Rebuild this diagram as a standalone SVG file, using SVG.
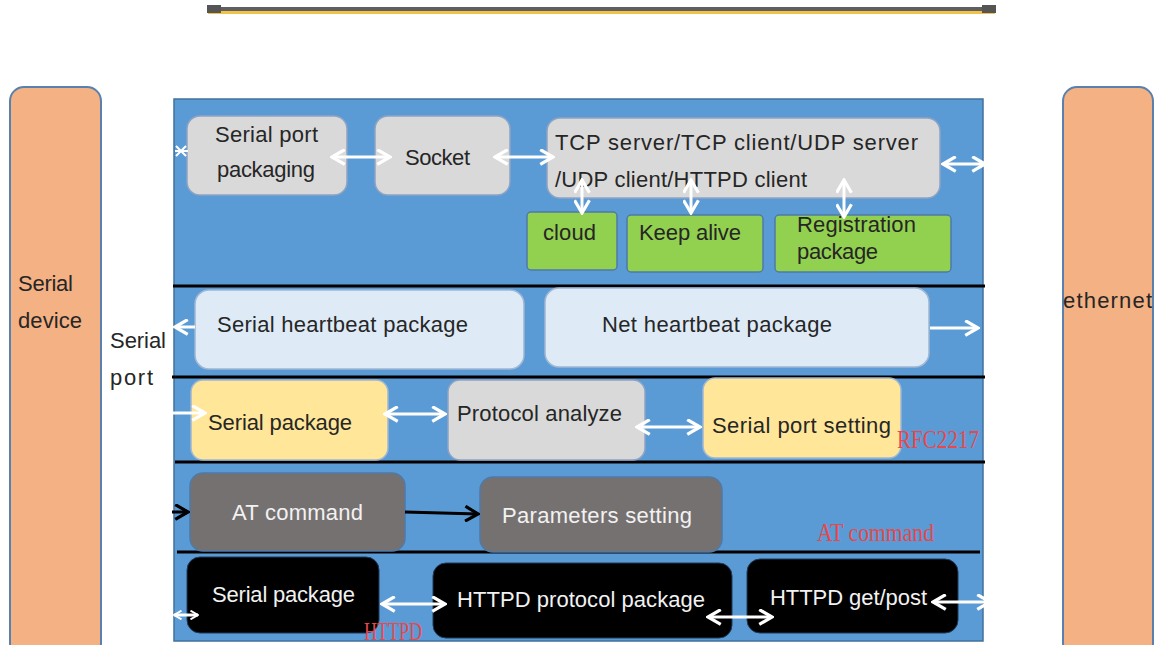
<svg xmlns="http://www.w3.org/2000/svg" width="1156" height="645" viewBox="0 0 1156 645">
<style>
.t{font-family:"Liberation Sans",Arial,sans-serif;font-size:22px;fill:#262626}
.tw{font-family:"Liberation Sans",Arial,sans-serif;font-size:22px;fill:#f2f2f2}
.red{font-family:"Liberation Serif","Times New Roman",serif;font-size:25px;fill:#e8474c}
.gray{fill:#d9d9d9;stroke:#8ea4c4;stroke-width:1.5}
.lb{fill:#deebf7;stroke:#9fb7d3;stroke-width:1.5}
.yel{fill:#ffe699;stroke:#9fb7d3;stroke-width:1.5}
.grn{fill:#92d050;stroke:#4f7aa8;stroke-width:1.5}
.dk{fill:#767171;stroke:#4f7aa8;stroke-width:1.5}
.blk{fill:#000;stroke:#1f3a5a;stroke-width:1}
.peach{fill:#f4b183;stroke:#5a80ad;stroke-width:2}
.wa{stroke:#fff;stroke-width:3;fill:none}
.ba{stroke:#000;stroke-width:3;fill:none}
.sep{stroke:#000;stroke-width:3}
</style>
<defs>
<marker id="wh" viewBox="0 0 16 16" refX="14" refY="8" markerWidth="17" markerHeight="17" markerUnits="userSpaceOnUse" orient="auto-start-reverse">
<path d="M2,1 L14,8 L2,15" fill="none" stroke="#fff" stroke-width="3"/>
</marker>
<marker id="whs" viewBox="0 0 16 16" refX="14" refY="8" markerWidth="10" markerHeight="10" markerUnits="userSpaceOnUse" orient="auto-start-reverse">
<path d="M2,1 L14,8 L2,15" fill="none" stroke="#fff" stroke-width="3"/>
</marker>
<marker id="bh" viewBox="0 0 16 16" refX="14" refY="8" markerWidth="17" markerHeight="17" markerUnits="userSpaceOnUse" orient="auto">
<path d="M2,1 L14,8 L2,15" fill="none" stroke="#000" stroke-width="3"/>
</marker>
</defs>
<rect width="1156" height="645" fill="#fff"/>

<g id="topbar">
<rect x="208" y="7" width="787" height="4" fill="#5f5f5f"/>
<rect x="208" y="11" width="787" height="3" fill="#f0c24a"/>
<rect x="207" y="5" width="14" height="8" fill="#555"/>
<rect x="982" y="5" width="14" height="8" fill="#555"/>
</g>

<g id="serial-device">
<rect class="peach" x="10" y="87" width="91" height="570" rx="14"/>
<text class="t" x="18" y="291" textLength="55">Serial</text>
<text class="t" x="18" y="328" textLength="64">device</text>
</g>
<g id="ethernet">
<rect class="peach" x="1063" y="87" width="90" height="570" rx="14"/>
<text class="t" x="1063" y="308" textLength="89">ethernet</text>
</g>
<g id="serial-port-label">
<text class="t" x="110" y="348" textLength="56">Serial</text>
<text class="t" x="110" y="385" textLength="43">port</text>
</g>

<g id="panel">
<rect x="174" y="99" width="809" height="542" fill="#5b9bd5" stroke="#41719c" stroke-width="1.5"/>
</g>

<g id="separators">
<line class="sep" x1="173" y1="286" x2="985" y2="286"/>
<line class="sep" x1="172" y1="377" x2="985" y2="377"/>
<line class="sep" x1="175" y1="462" x2="985" y2="462"/>
<line class="sep" x1="177" y1="552" x2="980" y2="552"/>
</g>

<g id="serial-port-packaging">
<rect class="gray" x="187" y="116" width="160" height="79" rx="13"/>
<text class="t" x="215" y="142" textLength="103">Serial port</text>
<text class="t" x="217" y="177" textLength="98">packaging</text>
</g>
<g id="socket">
<rect class="gray" x="375" y="116" width="135" height="79" rx="13"/>
<text class="t" x="405" y="165" textLength="65">Socket</text>
</g>
<g id="tcp">
<rect class="gray" x="547" y="118" width="393" height="80" rx="13"/>
<text class="t" x="555" y="150" textLength="363">TCP  server/TCP  client/UDP  server</text>
<text class="t" x="555" y="187" textLength="252">/UDP client/HTTPD client</text>
</g>
<g id="cloud">
<rect class="grn" x="527" y="212" width="90" height="58" rx="4"/>
<text class="t" x="543" y="240" textLength="53">cloud</text>
</g>
<g id="keep-alive">
<rect class="grn" x="627" y="215" width="136" height="57" rx="4"/>
<text class="t" x="639" y="240" textLength="102">Keep alive</text>
</g>
<g id="registration">
<rect class="grn" x="775" y="215" width="176" height="57" rx="4"/>
<text class="t" x="797" y="232" textLength="119">Registration</text>
<text class="t" x="797" y="259" textLength="81">package</text>
</g>

<g id="serial-heartbeat">
<rect class="lb" x="195" y="290" width="329" height="79" rx="14"/>
<text class="t" x="217" y="332" textLength="251">Serial heartbeat package</text>
</g>
<g id="net-heartbeat">
<rect class="lb" x="545" y="288" width="384" height="79" rx="14"/>
<text class="t" x="602" y="332" textLength="230">Net heartbeat package</text>
</g>

<g id="serial-package">
<rect class="yel" x="191" y="380" width="197" height="80" rx="12"/>
<text class="t" x="208" y="430" textLength="144">Serial package</text>
</g>
<g id="protocol-analyze">
<rect class="gray" x="448" y="380" width="197" height="80" rx="12"/>
<text class="t" x="457" y="421" textLength="165">Protocol analyze</text>
</g>
<g id="serial-port-setting">
<rect class="yel" x="703" y="378" width="198" height="80" rx="12"/>
<text class="t" x="712" y="433" textLength="179">Serial port setting</text>
</g>
<g id="rfc2217">
<text class="red" x="897" y="448" textLength="82" lengthAdjust="spacingAndGlyphs">RFC2217</text>
</g>

<g id="at-command">
<rect class="dk" x="190" y="473" width="215" height="78" rx="13"/>
<text class="tw" x="232" y="520" textLength="131">AT command</text>
</g>
<g id="parameters-setting">
<rect class="dk" x="480" y="477" width="242" height="75" rx="13"/>
<text class="tw" x="502" y="523" textLength="190">Parameters setting</text>
</g>
<g id="at-command-label">
<text class="red" x="817" y="541" textLength="117" lengthAdjust="spacingAndGlyphs">AT command</text>
</g>

<g id="serial-package-http">
<rect class="blk" x="187" y="557" width="192" height="76" rx="13"/>
<text class="tw" x="212" y="602" textLength="143">Serial package</text>
</g>
<g id="httpd-protocol">
<rect class="blk" x="433" y="563" width="299" height="75" rx="13"/>
<text class="tw" x="457" y="607" textLength="248">HTTPD protocol package</text>
</g>
<g id="httpd-getpost">
<rect class="blk" x="747" y="559" width="211" height="74" rx="13"/>
<text class="tw" x="770" y="605" textLength="157">HTTPD get/post</text>
</g>
<g id="httpd-label">
<text class="red" x="364" y="640" textLength="58" lengthAdjust="spacingAndGlyphs">HTTPD</text>
</g>

<g id="connectors">
<path d="M176,146 L186,156 M176,156 L186,146 M175,151 L188,151" stroke="#fff" stroke-width="2" fill="none"/>
<line class="wa" x1="332" y1="157" x2="390" y2="157" marker-start="url(#wh)" marker-end="url(#wh)"/>
<line class="wa" x1="495" y1="157" x2="553" y2="157" marker-start="url(#wh)" marker-end="url(#wh)"/>
<line class="wa" x1="943" y1="164" x2="985" y2="164" marker-start="url(#wh)" marker-end="url(#wh)"/>
<line class="wa" x1="582" y1="180" x2="582" y2="213" marker-start="url(#wh)" marker-end="url(#wh)"/>
<line class="wa" x1="691" y1="180" x2="691" y2="213" marker-start="url(#wh)" marker-end="url(#wh)"/>
<line class="wa" x1="844" y1="180" x2="844" y2="217" marker-start="url(#wh)" marker-end="url(#wh)"/>
<line class="wa" x1="195" y1="327" x2="175" y2="327" marker-end="url(#wh)"/>
<line class="wa" x1="930" y1="328" x2="978" y2="328" marker-end="url(#wh)"/>
<line class="wa" x1="173" y1="413" x2="205" y2="413" marker-end="url(#wh)"/>
<line class="wa" x1="385" y1="414" x2="445" y2="414" marker-start="url(#wh)" marker-end="url(#wh)"/>
<line class="wa" x1="637" y1="427" x2="700" y2="427" marker-start="url(#wh)" marker-end="url(#wh)"/>
<line class="ba" x1="172" y1="512" x2="188" y2="512" marker-end="url(#bh)"/>
<line class="ba" x1="405" y1="512" x2="478" y2="514" marker-end="url(#bh)"/>
<line class="wa" x1="174" y1="615" x2="198" y2="615" marker-start="url(#whs)" marker-end="url(#whs)"/>
<line class="wa" x1="382" y1="604" x2="445" y2="604" marker-start="url(#wh)" marker-end="url(#wh)"/>
<line class="wa" x1="708" y1="617" x2="772" y2="617" marker-start="url(#wh)" marker-end="url(#wh)"/>
<line class="wa" x1="933" y1="602" x2="990" y2="602" marker-start="url(#wh)" marker-end="url(#wh)"/>
</g>
</svg>
